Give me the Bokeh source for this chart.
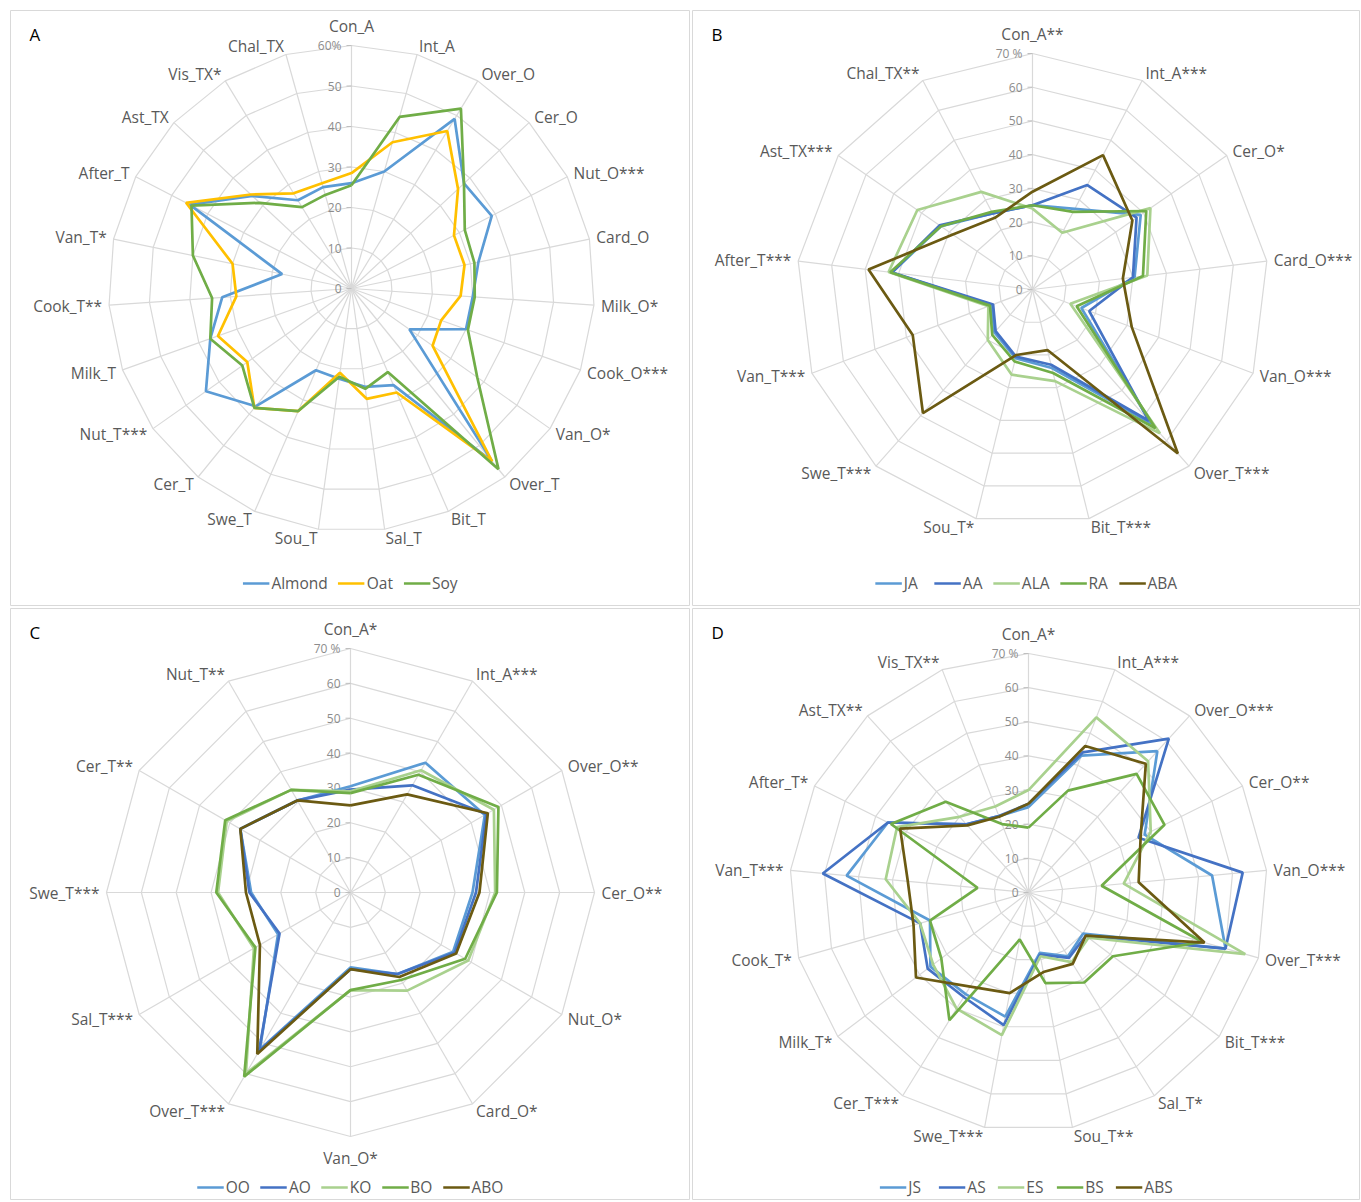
import math
from bokeh.plotting import figure
from bokeh.models import Range1d, Legend, LegendItem
from bokeh.layouts import gridplot
from bokeh.embed import file_html
from bokeh.resources import INLINE
from bokeh.core.properties import value

# ---------------- Panel A ----------------
a_cats = ["Con_A", "Int_A", "Over_O", "Cer_O", "Nut_O***", "Card_O", "Milk_O*", "Cook_O***",
          "Van_O*", "Over_T", "Bit_T", "Sal_T", "Sou_T", "Swe_T", "Cer_T", "Nut_T***", "Milk_T",
          "Cook_T**", "Van_T*", "After_T", "Ast_TX", "Vis_TX*", "Chal_TX"]
a_names = ["Almond", "Oat", "Soy"]
a_almond = [26, 30, 49, 38, 39, 32, 30, 30, 17.5, 55, 26, 24.5, 22.5, 22, 37.5, 44, 37, 32, 17.5, 45, 33.5, 25.5, 26]
a_oat = [28.5, 37.5, 45.5, 36, 28.5, 28.5, 27, 23.5, 24.5, 55, 28, 27.5, 21, 33, 38, 31.5, 35, 28.5, 30, 46, 34, 27.5, 27]
a_soy = [25.5, 44, 52, 38, 31.5, 31, 30.5, 30.5, 38, 57.5, 22.5, 25, 22, 33, 38, 33, 37, 34.5, 40, 44.5, 31, 23.5, 24]
a_ticks = ["0", "10", "20", "30", "40", "50", "60%"]

# ---------------- Panel B ----------------
b_cats = ["Con_A**", "Int_A***", "Cer_O*", "Card_O***", "Van_O***", "Over_T***", "Bit_T***",
          "Sou_T*", "Swe_T***", "Van_T***", "After_T***", "Ast_TX***", "Chal_TX**"]
b_names = ["JA", "AA", "ALA", "RA", "ABA"]
b_ja = [25, 27, 39, 30.5, 15.5, 53, 24, 21, 17, 13, 42, 33, 25.5]
b_aa = [25, 35, 37.5, 30, 18, 52, 23, 20.5, 16.5, 12.5, 42, 33.5, 25.5]
b_ala = [24, 19, 42.5, 34.3, 12, 57, 28, 26, 20, 14, 43, 41.5, 32.7]
b_ra = [25, 26, 41, 33, 14, 55, 25.5, 22, 18, 13.5, 42.5, 33, 26]
b_aba = [29, 45, 36, 27, 31.5, 65, 18.5, 20, 49, 38, 49, 28.7, 24]
b_ticks = ["0", "10", "20", "30", "40", "50", "60", "70 %"]

# ---------------- Panel C ----------------
c_cats = ["Con_A*", "Int_A***", "Over_O**", "Cer_O**", "Nut_O*", "Card_O*", "Van_O*",
          "Over_T***", "Sal_T***", "Swe_T***", "Cer_T**", "Nut_T**"]
c_names = ["OO", "AO", "KO", "BO", "ABO"]
c_oo = [30.5, 43, 44.5, 35, 34, 27, 21.5, 52, 24, 28.5, 36.5, 30.5]
c_ao = [29.5, 35.5, 45, 36, 34.5, 27, 22, 52.5, 23.5, 29, 36.5, 30.5]
c_ko = [29, 40.5, 47.5, 41.5, 39, 32.5, 28, 60, 32, 38, 41, 34]
c_bo = [28.5, 39, 49, 42, 38, 29, 28, 61, 31.5, 38.5, 41.5, 34]
c_abo = [25, 32.5, 45.5, 37, 35, 28, 22, 53.5, 30, 30, 36.5, 30.5]
c_ticks = ["0", "10", "20", "30", "40", "50", "60", "70 %"]

# ---------------- Panel D ----------------
d_cats = ["Con_A*", "Int_A***", "Over_O***", "Cer_O**", "Van_O***", "Over_T***", "Bit_T***",
          "Sal_T*", "Sou_T**", "Swe_T***", "Cer_T***", "Milk_T*", "Cook_T*", "Van_T***",
          "After_T*", "Ast_TX**", "Vis_TX**"]
d_names = ["JS", "AS", "ES", "BS", "ABS"]
d_js = [25, 43, 56, 38, 54, 60, 20, 22, 18, 37, 35, 36, 30, 53.5, 46, 27, 24]
d_as = [26, 44, 61, 36, 63, 60, 21, 22.5, 18.5, 39.5, 36, 37, 33, 60.5, 46, 27, 24]
d_es = [30, 55, 52, 40, 28, 66, 22, 24, 19, 42.5, 40, 35, 33, 42, 43, 30, 27]
d_bs = [19, 32, 47, 44.5, 21.5, 53, 31, 31, 27, 14, 44, 32, 30, 15, 45, 36, 21.5]
d_abs = [26, 46, 51, 36.7, 32.4, 53.6, 21, 24.6, 23.7, 30, 32.4, 41.3, 35, 35.5, 42, 26.6, 23.8]
d_ticks = ["0", "10", "20", "30", "40", "50", "60", "70 %"]

FONT = "Open Sans"
GRID = "#D9D9D9"
TXT = "#595959"
FIVE = ["#5B9BD5", "#4472C4", "#A9D18E", "#70AD47", "#6B5A12"]


def radar(cats, names, series, colors, max_v, R, fig_w, fig_h, bl, bt, cx, cy, letter, ticks, lg_margin):
    n = len(cats)
    fw = fig_w - bl
    fh = fig_h - bt
    x0 = bl - cx
    y1 = cy - bt
    p = figure(width=fig_w, height=fig_h,
               x_range=Range1d(x0, x0 + fw), y_range=Range1d(y1 - fh, y1),
               output_backend="svg", toolbar_location=None,
               x_axis_location=None, y_axis_location=None,
               min_border_left=bl, min_border_top=bt, min_border_right=0, min_border_bottom=0)
    p.grid.visible = False
    p.outline_line_color = GRID
    p.outline_line_width = 1
    ang = [2 * math.pi * k / n for k in range(n)]
    # rings
    rxs, rys = [], []
    for i, _ in enumerate(ticks):
        r = i * 10 / max_v * R
        rxs.append([r * math.sin(a) for a in ang] + [0.0])
        rys.append([r * math.cos(a) for a in ang] + [r])
    p.multi_line(rxs, rys, line_color=GRID, line_width=1.2)
    # spokes
    p.segment(x0=[0] * n, y0=[0] * n, x1=[R * math.sin(a) for a in ang],
              y1=[R * math.cos(a) for a in ang], line_color=GRID, line_width=1.2)
    # value tick labels and marks
    tr = [i * 10 / max_v * R for i in range(len(ticks))]
    p.segment(x0=[-5] * len(tr), y0=tr, x1=[0] * len(tr), y1=tr, line_color="#BFBFBF", line_width=1)
    p.text(x=[-10] * len(tr), y=tr, text=ticks, text_align="right", text_baseline="middle",
           text_font=value(FONT), text_font_size="12px", text_color="#8C8C8C")
    # series
    items = []
    for nm, vals, col in zip(names, series, colors):
        xs = [v / max_v * R * math.sin(a) for v, a in zip(vals, ang)]
        ys = [v / max_v * R * math.cos(a) for v, a in zip(vals, ang)]
        xs.append(xs[0])
        ys.append(ys[0])
        rr = p.line(xs, ys, line_color=col, line_width=2.7)
        items.append(LegendItem(label=nm, renderers=[rr]))
    # category labels
    for c, a in zip(cats, ang):
        s, co = math.sin(a), math.cos(a)
        if abs(s) < 0.08:
            if co > 0:
                lx, ly, al, bline = 0, R + 9, "center", "bottom"
            else:
                lx, ly, al, bline = 0, -(R + 10), "center", "top"
        else:
            lx, ly = (R + 7) * s, (R + 8.5) * co
            al = "left" if s > 0 else "right"
            bline = "middle"
        p.text(x=[lx], y=[ly], text=[c], text_align=al, text_baseline=bline,
               text_font=value(FONT), text_font_size="15.5px", text_color=TXT)
    # panel letter
    p.text(x=[x0 + 19], y=[y1 - 24], text=[letter], text_align="left", text_baseline="middle",
           text_font=value(FONT), text_font_size="17px", text_color="#000000")
    lg = Legend(items=items, orientation="horizontal", location="bottom_center")
    lg.label_text_font = FONT
    lg.label_text_font_size = "15.5px"
    lg.label_text_color = TXT
    lg.glyph_width = 27
    lg.glyph_height = 14
    lg.label_height = 14
    lg.label_standoff = 2
    lg.spacing = 10
    lg.padding = 0
    lg.margin = lg_margin
    lg.border_line_color = None
    lg.background_fill_alpha = 0
    p.add_layout(lg)
    return p


pA = radar(a_cats, a_names, [a_almond, a_oat, a_soy], ["#5B9BD5", "#FFC000", "#70AD47"],
           60, 243, 690, 606, 10, 10, 351, 288, "A", a_ticks, 12)
pB = radar(b_cats, b_names, [b_ja, b_aa, b_ala, b_ra, b_aba], FIVE,
           70, 236, 670, 606, 2, 10, 342, 289, "B", b_ticks, 12)
pC = radar(c_cats, c_names, [c_oo, c_ao, c_ko, c_bo, c_abo], FIVE,
           70, 244, 690, 594, 10, 2, 350, 286, "C", c_ticks, 2)
pD = radar(d_cats, d_names, [d_js, d_as, d_es, d_bs, d_abs], FIVE,
           70, 239, 670, 594, 2, 2, 338, 286, "D", d_ticks, 2)

grid = gridplot([[pA, pB], [pC, pD]], toolbar_location=None)
open("out.html", "w").write(file_html(grid, INLINE))
